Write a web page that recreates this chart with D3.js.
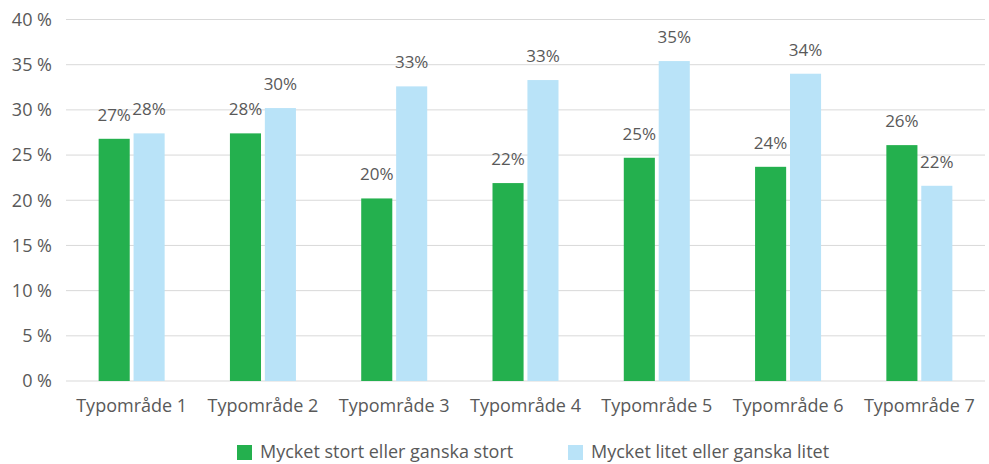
<!DOCTYPE html>
<html><head><meta charset="utf-8">
<script src="https://cdn.jsdelivr.net/npm/d3@7"></script>
<style>body{margin:0;background:#fff;} text{font-family:"Open Sans",sans-serif;}</style>
</head><body>
<svg id="c" width="989" height="464"></svg>
<script>
const categories = ["Typområde 1","Typområde 2","Typområde 3","Typområde 4","Typområde 5","Typområde 6","Typområde 7"];
const seriesNames = ["Mycket stort eller ganska stort","Mycket litet eller ganska litet"];
const storValues = [26.8, 27.4, 20.2, 21.9, 24.7, 23.7, 26.1];
const litetValues = [27.4, 30.2, 32.6, 33.3, 35.4, 34.0, 21.6];
const storLabels = ["27%","28%","20%","22%","25%","24%","26%"];
const litetLabels = ["28%","30%","33%","33%","35%","34%","22%"];
const yTicks = [0,5,10,15,20,25,30,35,40];
const colors = ["#24b04e","#b9e3f8"];

const svg = d3.select("#c");
const mLeft = 66, mRight = 985, mTop = 19.5, mBottom = 381;
const FS = "18px";
const x = d3.scaleBand().domain(categories).range([mLeft, mRight]).paddingInner(0).paddingOuter(0);
const y = d3.scaleLinear().domain([0,40]).range([mBottom, mTop]);
const inner = d3.scaleBand().domain([0,1]).range([0, 66]).paddingInner(0.11);

// grid
svg.append("g").selectAll("line").data(yTicks).join("line")
  .attr("x1", mLeft).attr("x2", mRight)
  .attr("y1", d=>y(d)).attr("y2", d=>y(d))
  .attr("stroke", "#d9d9d9").attr("stroke-width", 1);

// y axis labels
const yAxis = d3.axisLeft(y).tickValues(yTicks).tickFormat(d=>d+" %").tickSize(0).tickPadding(14);
const ga = svg.append("g").attr("transform",`translate(${mLeft},0)`).call(yAxis);
ga.select(".domain").remove();
ga.selectAll("text").attr("fill","#595959").style("font-size",FS).style("font-family","'Open Sans',sans-serif");

// x axis labels
const xAxis = d3.axisBottom(x).tickSize(0).tickPadding(18);
const gx = svg.append("g").attr("transform",`translate(0,${mBottom})`).call(xAxis);
gx.select(".domain").remove();
gx.selectAll("text").attr("fill","#595959").style("font-size",FS).style("font-family","'Open Sans',sans-serif");

const series = [storValues, litetValues];
const labels = [storLabels, litetLabels];
series.forEach((vals, s) => {
  const g = svg.append("g");
  const bx = (i) => x(categories[i]) + x.bandwidth()/2 - 33 + inner(s);
  g.selectAll("rect").data(vals).join("rect")
    .attr("x", (d,i)=>bx(i))
    .attr("width", inner.bandwidth())
    .attr("y", d=>y(d))
    .attr("height", d=>mBottom - y(d))
    .attr("fill", colors[s]);
  g.selectAll("text").data(vals).join("text")
    .attr("x", (d,i)=>bx(i) + inner.bandwidth()/2)
    .attr("y", d=>y(d) - 18)
    .attr("text-anchor","middle")
    .attr("fill","#595959")
    .style("font-size","17px")
    .text((d,i)=>labels[s][i]);
});

// legend
const legX = [237, 568];
const lg = svg.append("g");
seriesNames.forEach((n, i) => {
  lg.append("rect").attr("x", legX[i]).attr("y", 445).attr("width", 15).attr("height", 15).attr("fill", colors[i]);
  lg.append("text").attr("x", legX[i] + 23).attr("y", 458).attr("fill","#595959").style("font-size",FS).text(n);
});
</script>
</body></html>
